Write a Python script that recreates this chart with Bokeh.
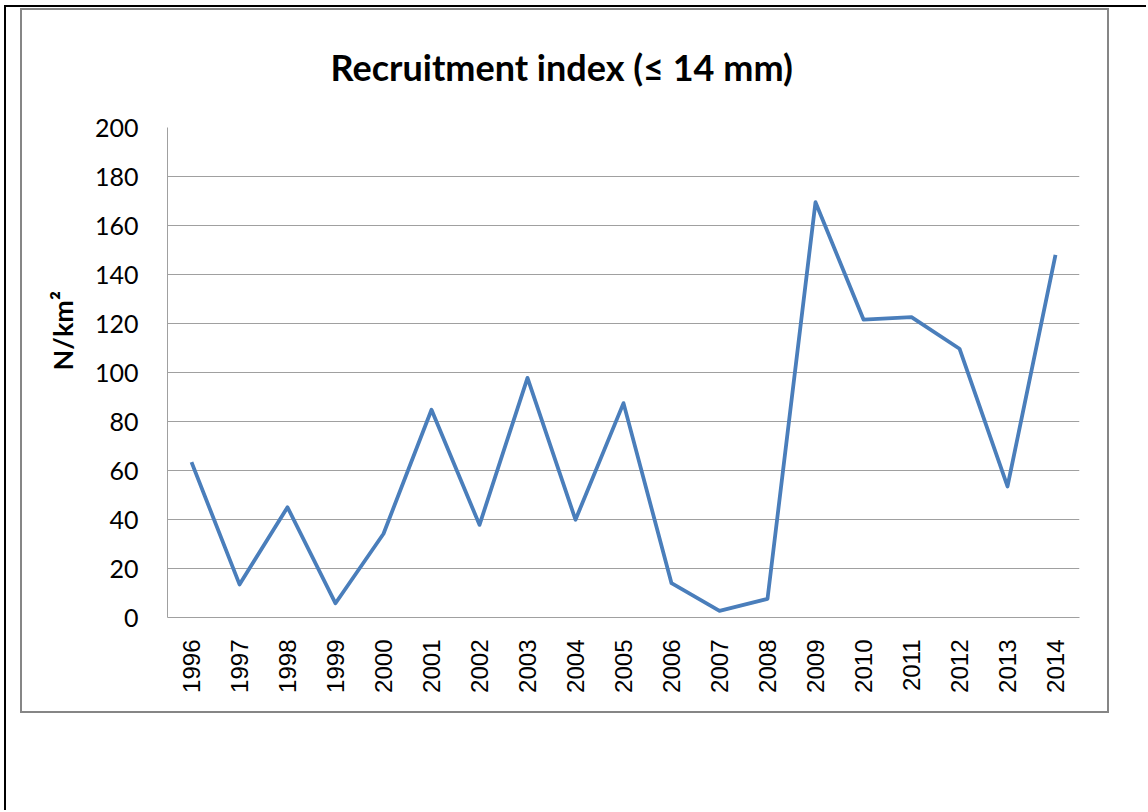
import math
from bokeh.plotting import figure
from bokeh.models import FactorRange, Range1d, FixedTicker, ColumnDataSource, Title
from bokeh.embed import file_html
from bokeh.resources import INLINE

# ---- data ----
years = ["1996", "1997", "1998", "1999", "2000", "2001", "2002", "2003", "2004", "2005",
         "2006", "2007", "2008", "2009", "2010", "2011", "2012", "2013", "2014"]
recruitment = [63.4, 13.5, 45.0, 5.8, 34.2, 84.8, 37.8, 97.8, 39.9, 87.5,
               14.0, 2.7, 7.6, 169.5, 121.6, 122.6, 109.7, 53.5, 148.0]
y_ticks = [0, 20, 40, 60, 80, 100, 120, 140, 160, 180, 200]
title_text = "Recruitment index (\u2264 14 mm)"
y_label = "N/km\u00b2"

W, H = 1146, 810
p = figure(width=W, height=H,
           x_range=FactorRange(*years, range_padding=0),
           y_range=Range1d(0, 200),
           output_backend="svg", toolbar_location=None,
           min_border_left=167, min_border_right=W - 1079,
           min_border_top=127, min_border_bottom=H - 617)

src = ColumnDataSource(dict(x=years, y=recruitment))
p.line("x", "y", source=src, line_color="#4a7ebb", line_width=3.8, line_join="round")

p.outline_line_color = None
p.background_fill_color = "white"
p.border_fill_color = None

# decorative page/chart borders drawn as CSS background layers of the figure host
def bar(x, y, w, h, c):
    return f"linear-gradient({c},{c}) {x}px {y}px / {w}px {h}px no-repeat"

gray = "#868686"
layers = [
    bar(4, 5, W - 4, 2, "#000000"),     # page top line
    bar(4, 5, 2, H - 5, "#000000"),     # page left line
    bar(20, 8, 1089, 2, gray),          # chart box top
    bar(20, 711, 1089, 2, gray),        # chart box bottom
    bar(20, 8, 2, 705, gray),           # chart box left
    bar(1107, 8, 2, 705, gray),         # chart box right
]
p.styles = {"background": ", ".join(layers) + ", #ffffff"}

# title
p.title.text = title_text
p.title.align = "left"
p.title.offset = 163
p.title.text_font = "Lato"
p.title.text_font_style = "bold"
p.title.text_font_size = "36px"
p.title.text_color = "black"
p.title.standoff = 77

# y-axis title (placed left of the tick labels, upper part)
p.add_layout(Title(text=y_label, align="left", offset=247, standoff=25,
                   text_font="Lato", text_font_style="bold",
                   text_font_size="27px", text_color="black"), "left")

# grid
p.xgrid.visible = False
p.ygrid.ticker = FixedTicker(ticks=y_ticks)
p.ygrid.grid_line_color = "#a0a0a0"
p.ygrid.grid_line_width = 1

# y axis
ya = p.yaxis[0]
ya.ticker = FixedTicker(ticks=y_ticks)
ya.axis_line_color = "#a0a0a0"
ya.major_tick_line_color = None
ya.minor_tick_line_color = None
ya.major_label_standoff = 23
ya.major_label_text_font = "Lato"
ya.major_label_text_font_size = "25px"
ya.major_label_text_color = "black"

# x axis
xa = p.xaxis[0]
xa.axis_line_color = "#a0a0a0"
xa.major_tick_line_color = None
xa.minor_tick_line_color = None
xa.major_label_orientation = math.pi / 2
xa.major_label_standoff = 16
xa.major_label_text_font = "Liberation Sans"
xa.major_label_text_font_size = "24px"
xa.major_label_text_color = "black"

open("out.html", "w").write(file_html(p, INLINE))
